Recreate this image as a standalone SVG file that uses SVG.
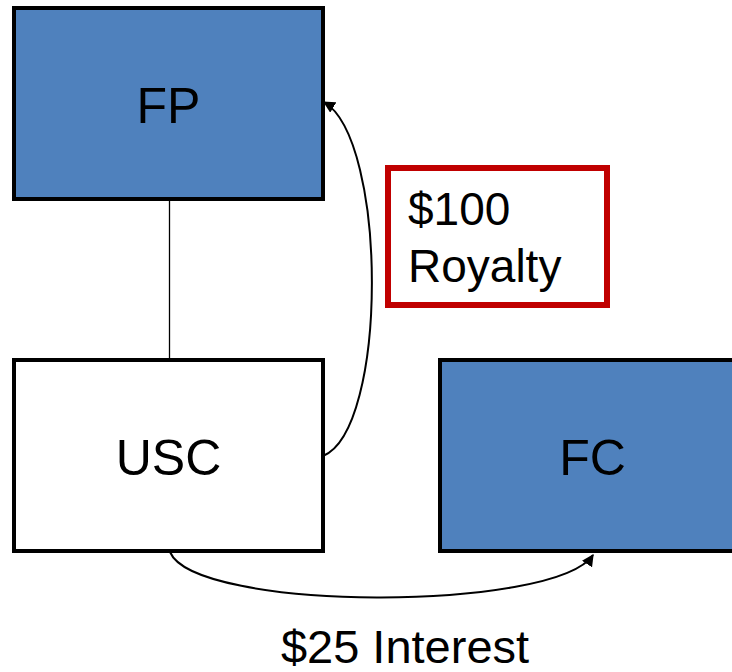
<svg xmlns="http://www.w3.org/2000/svg" width="732" height="672" viewBox="0 0 732 672">
<style>
.box{stroke:#000;stroke-width:4}
.blue{fill:#4F81BD}
.white{fill:#fff}
.lbl{font-family:"Liberation Sans",Arial,sans-serif;font-size:50px;fill:#000;text-anchor:middle}
.txt{font-family:"Liberation Sans",Arial,sans-serif;font-size:46px;fill:#000}
.conn{fill:none;stroke:#000;stroke-width:2}
</style>
<defs>
<marker id="ah" viewBox="0 0 10 10" refX="9" refY="5" markerWidth="6" markerHeight="6" orient="auto" markerUnits="strokeWidth">
<path d="M0,0 L10,5 L0,10 z" fill="#000"/>
</marker>
</defs>
<rect width="732" height="672" fill="#fff"/>
<g id="connectors">
<line x1="169.5" y1="199" x2="169.5" y2="360" stroke="#000" stroke-width="1.3"/>
<path class="conn" d="M323,456 C388,430 388,140 324,102" marker-end="url(#ah)"/>
<path class="conn" d="M170,552 C195,612 555,612 593,555" marker-end="url(#ah)"/>
</g>
<g id="FP">
<rect class="box blue" x="14" y="8" width="309" height="191"/>
<text class="lbl" x="168.5" y="123">FP</text>
</g>
<g id="USC">
<rect class="box white" x="14" y="360" width="309" height="191"/>
<text class="lbl" x="168.5" y="475">USC</text>
</g>
<g id="FC">
<rect class="box blue" x="440" y="360" width="309" height="191"/>
<text class="lbl" x="592.5" y="475">FC</text>
</g>
<g id="royalty">
<rect x="388" y="168" width="219" height="137" fill="#fff" stroke="#C00000" stroke-width="6"/>
<text class="txt" x="408" y="225">$100</text>
<text class="txt" x="408" y="282">Royalty</text>
</g>
<g id="interest">
<text class="txt" x="405" y="663" text-anchor="middle" style="font-size:47px">$25 Interest</text>
</g>
</svg>
